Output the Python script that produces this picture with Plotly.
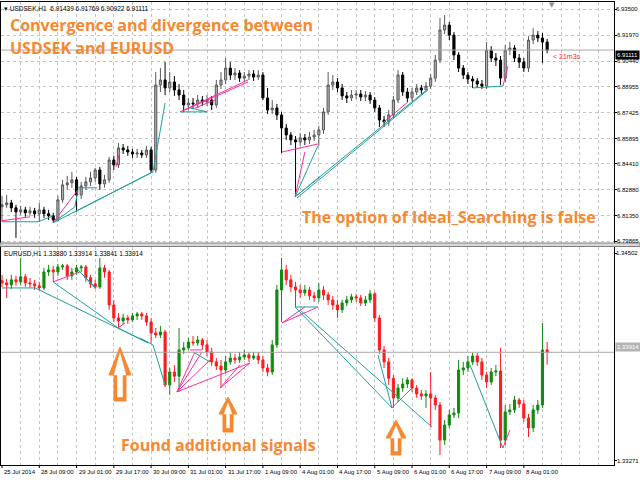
import plotly.graph_objects as go

W, H = 640, 480
def px(x): return x / W
def py(y): return 1 - y / H

# ---------------- data ----------------
date_labels = ["25 Jul 2014", "28 Jul 09:00", "29 Jul 01:00", "29 Jul 17:00", "30 Jul 09:00",
               "31 Jul 01:00", "31 Jul 17:00", "1 Aug 09:00", "4 Aug 01:00", "4 Aug 17:00",
               "5 Aug 09:00", "6 Aug 01:00", "6 Aug 17:00", "7 Aug 09:00", "8 Aug 01:00"]
label_hours = [0, 16, 32, 48, 64, 80, 96, 112, 128, 144, 160, 176, 192, 208, 224]
bar_hours = list(range(0, 236, 2))  # one candle per 2 trading hours

usdsek_open0 = 6.8188
usdsek_close = [6.8200, 6.8211, 6.8182, 6.8158, 6.8170, 6.8153, 6.8164, 6.8147, 6.8170, 6.8147,
                6.8135, 6.8111, 6.8229, 6.8317, 6.8329, 6.8347, 6.8258, 6.8311, 6.8335, 6.8358,
                6.8405, 6.8323, 6.8347, 6.8464, 6.8435, 6.8535, 6.8523, 6.8511, 6.8499, 6.8505,
                6.8494, 6.8523, 6.8405, 6.8905, 6.8935, 6.8888, 6.8923, 6.8876, 6.8846, 6.8788,
                6.8799, 6.8794, 6.8817, 6.8805, 6.8817, 6.8788, 6.8905, 6.8935, 6.9005, 6.8964,
                6.8976, 6.8946, 6.8958, 6.8970, 6.8952, 6.8964, 6.8829, 6.8758, 6.8770, 6.8729,
                6.8652, 6.8611, 6.8582, 6.8570, 6.8594, 6.8582, 6.8599, 6.8611, 6.8641, 6.8747,
                6.8905, 6.8923, 6.8888, 6.8841, 6.8829, 6.8846, 6.8852, 6.8835, 6.8846, 6.8817,
                6.8770, 6.8699, 6.8688, 6.8729, 6.8817, 6.8964, 6.8864, 6.8829, 6.8864, 6.8888,
                6.8876, 6.8899, 6.8946, 6.9052, 6.9229, 6.9258, 6.9199, 6.9082, 6.9005, 6.8964,
                6.8940, 6.8929, 6.8911, 6.8899, 6.9111, 6.9064, 6.9052, 6.8946, 6.9111, 6.9123,
                6.9064, 6.9040, 6.9005, 6.9170, 6.9199, 6.9182, 6.9158, 6.91111]
usdsek_high = [6.8253, 6.8258, 6.8229, 6.8200, 6.8194, 6.8188, 6.8188, 6.8182, 6.8211, 6.8188,
               6.8170, 6.8153, 6.8253, 6.8347, 6.8370, 6.8394, 6.8364, 6.8335, 6.8364, 6.8394,
               6.8417, 6.8423, 6.8376, 6.8482, 6.8488, 6.8564, 6.8558, 6.8547, 6.8529, 6.8529,
               6.8523, 6.8547, 6.8541, 6.8982, 6.9005, 6.9040, 6.8982, 6.8958, 6.8911, 6.8876,
               6.8829, 6.8829, 6.8846, 6.8841, 6.8846, 6.8841, 6.8935, 6.8982, 6.9064, 6.9040,
               6.9005, 6.8993, 6.8982, 6.8993, 6.8993, 6.8993, 6.8982, 6.8888, 6.8817, 6.8794,
               6.8747, 6.8676, 6.8629, 6.8605, 6.8623, 6.8617, 6.8629, 6.8641, 6.8664, 6.8770,
               6.8982, 6.8964, 6.8946, 6.8911, 6.8864, 6.8876, 6.8876, 6.8876, 6.8870, 6.8864,
               6.8835, 6.8788, 6.8723, 6.8758, 6.8841, 6.8993, 6.8982, 6.8888, 6.8888, 6.8911,
               6.8905, 6.8923, 6.8970, 6.9082, 6.9299, 6.9317, 6.9276, 6.9217, 6.9099, 6.9023,
               6.8982, 6.8958, 6.8946, 6.8935, 6.9158, 6.9134, 6.9093, 6.9076, 6.9140, 6.9158,
               6.9140, 6.9088, 6.9064, 6.9193, 6.9240, 6.9223, 6.9211, 6.91769]
usdsek_low = [6.8100, 6.8182, 6.8158, 6.8005, 6.8141, 6.8129, 6.8135, 6.8123, 6.8100, 6.8123,
              6.8111, 6.8094, 6.8100, 6.8211, 6.8288, 6.8300, 6.8158, 6.8235, 6.8288, 6.8311,
              6.8335, 6.8288, 6.8300, 6.8329, 6.8405, 6.8417, 6.8499, 6.8488, 6.8476, 6.8476,
              6.8476, 6.8476, 6.8388, 6.8388, 6.8864, 6.8846, 6.8864, 6.8841, 6.8817, 6.8747,
              6.8758, 6.8764, 6.8770, 6.8782, 6.8782, 6.8758, 6.8770, 6.8882, 6.8911, 6.8935,
              6.8935, 6.8923, 6.8923, 6.8935, 6.8929, 6.8935, 6.8817, 6.8735, 6.8735, 6.8699,
              6.8505, 6.8582, 6.8552, 6.8247, 6.8547, 6.8552, 6.8558, 6.8576, 6.8547, 6.8617,
              6.8729, 6.8876, 6.8864, 6.8817, 6.8799, 6.8811, 6.8823, 6.8811, 6.8811, 6.8794,
              6.8747, 6.8658, 6.8658, 6.8664, 6.8711, 6.8799, 6.8841, 6.8805, 6.8811, 6.8846,
              6.8852, 6.8876, 6.8882, 6.8923, 6.9035, 6.9205, 6.9170, 6.9052, 6.8982, 6.8940,
              6.8911, 6.8888, 6.8888, 6.8882, 6.8882, 6.9040, 6.9017, 6.8905, 6.8923, 6.9082,
              6.9040, 6.9005, 6.8982, 6.8982, 6.9146, 6.9158, 6.9035, 6.90922]

eurusd_open0 = 1.34338
eurusd_close = [1.34326, 1.34314, 1.34344, 1.34332, 1.34362, 1.34326, 1.34320, 1.34308, 1.34296, 1.34391,
                1.34403, 1.34391, 1.34421, 1.34427, 1.34368, 1.34391, 1.34415, 1.34421, 1.34356, 1.34320,
                1.34302, 1.34415, 1.34391, 1.34195, 1.34118, 1.34100, 1.34118, 1.34106, 1.34130, 1.34142,
                1.34130, 1.34094, 1.34029, 1.34017, 1.34035, 1.33720, 1.33797, 1.33772, 1.33928, 1.33940,
                1.33975, 1.33970, 1.33987, 1.33958, 1.33916, 1.33857, 1.33833, 1.33809, 1.33857, 1.33880,
                1.33869, 1.33886, 1.33898, 1.33880, 1.33892, 1.33869, 1.33821, 1.33797, 1.33958, 1.34284,
                1.34403, 1.34344, 1.34302, 1.34284, 1.34267, 1.34284, 1.34249, 1.34237, 1.34284, 1.34255,
                1.34225, 1.34195, 1.34166, 1.34207, 1.34225, 1.34243, 1.34237, 1.34207, 1.34225, 1.34261,
                1.34118, 1.33928, 1.33857, 1.33760, 1.33643, 1.33702, 1.33726, 1.33750, 1.33702, 1.33667,
                1.33655, 1.33667, 1.33643, 1.33601, 1.33393, 1.33482, 1.33542, 1.33554, 1.33809, 1.33821,
                1.33857, 1.33892, 1.33857, 1.33779, 1.33738, 1.33797, 1.33803, 1.33393, 1.33560, 1.33572,
                1.33631, 1.33607, 1.33524, 1.33465, 1.33572, 1.33601, 1.33928, 1.33914]
eurusd_high = [1.34374, 1.34350, 1.34374, 1.34368, 1.34474, 1.34379, 1.34356, 1.34344, 1.34332, 1.34415,
               1.34433, 1.34427, 1.34439, 1.34439, 1.34439, 1.34415, 1.34433, 1.34433, 1.34433, 1.34374,
               1.34344, 1.34474, 1.34433, 1.34403, 1.34225, 1.34148, 1.34142, 1.34136, 1.34148, 1.34154,
               1.34154, 1.34148, 1.34118, 1.34059, 1.34071, 1.34047, 1.33821, 1.33839, 1.34059, 1.33975,
               1.33999, 1.34011, 1.34011, 1.33999, 1.33987, 1.33940, 1.33880, 1.33869, 1.33892, 1.33916,
               1.33904, 1.33916, 1.33928, 1.33916, 1.33916, 1.33916, 1.33892, 1.33845, 1.33987, 1.34314,
               1.34474, 1.34433, 1.34374, 1.34332, 1.34314, 1.34314, 1.34302, 1.34273, 1.34326, 1.34308,
               1.34273, 1.34249, 1.34225, 1.34225, 1.34249, 1.34261, 1.34261, 1.34255, 1.34249, 1.34284,
               1.34273, 1.34136, 1.33952, 1.33880, 1.33779, 1.33726, 1.33760, 1.33766, 1.33760, 1.33720,
               1.33690, 1.33690, 1.33797, 1.33661, 1.33619, 1.33512, 1.33572, 1.33584, 1.33869, 1.33857,
               1.33892, 1.33910, 1.33910, 1.33880, 1.33797, 1.33821, 1.33839, 1.33940, 1.33601, 1.33607,
               1.33655, 1.33643, 1.33631, 1.33548, 1.33601, 1.33631, 1.34088, 1.33975]
eurusd_low = [1.34302, 1.34237, 1.34290, 1.34308, 1.34314, 1.34302, 1.34296, 1.34284, 1.34284, 1.34284,
              1.34368, 1.34332, 1.34368, 1.34403, 1.34344, 1.34344, 1.34374, 1.34391, 1.34332, 1.34296,
              1.34290, 1.34290, 1.34356, 1.34166, 1.34094, 1.34059, 1.34082, 1.34082, 1.34094, 1.34106,
              1.34106, 1.34071, 1.33970, 1.33999, 1.33999, 1.33708, 1.33661, 1.33738, 1.33679, 1.33904,
              1.33928, 1.33952, 1.33952, 1.33928, 1.33892, 1.33833, 1.33809, 1.33702, 1.33791, 1.33839,
              1.33845, 1.33851, 1.33869, 1.33857, 1.33869, 1.33845, 1.33797, 1.33772, 1.33779, 1.33940,
              1.34094, 1.34314, 1.34273, 1.34183, 1.34237, 1.34249, 1.34225, 1.34213, 1.34213, 1.34225,
              1.34195, 1.34166, 1.34118, 1.34148, 1.34189, 1.34207, 1.34213, 1.34189, 1.34189, 1.34207,
              1.34094, 1.33904, 1.33821, 1.33720, 1.33584, 1.33619, 1.33679, 1.33702, 1.33679, 1.33643,
              1.33631, 1.33584, 1.33471, 1.33572, 1.33304, 1.33364, 1.33465, 1.33524, 1.33524, 1.33779,
              1.33797, 1.33839, 1.33833, 1.33750, 1.33702, 1.33720, 1.33772, 1.33346, 1.33364, 1.33542,
              1.33554, 1.33584, 1.33500, 1.33411, 1.33441, 1.33548, 1.33584, 1.33841]

usdsek_ticks = [6.93500, 6.91970, 6.90440, 6.88955, 6.87425, 6.85895, 6.84410, 6.82880, 6.81350, 6.79865]
eurusd_ticks = [1.34502, 1.33271]
usdsek_last = 6.91111
eurusd_last = 1.33914

# divergence lines: (hour1, price1, hour2, price2, kind)
usdsek_segments = [
    (0, 6.8100, 15.5, 6.8100, "teal"), (15.5, 6.8100, 21.9, 6.8135, "teal"),
    (0, 6.8106, 12, 6.8129, "pink"), (21.9, 6.8094, 32.6, 6.8288, "pink"),
    (21.9, 6.8094, 31.3, 6.8188, "teal"), (31.3, 6.8188, 32.6, 6.8288, "teal"),
    (32.6, 6.8300, 40.8, 6.8300, "teal"), (21.9, 6.8094, 64.8, 6.8394, "teal"),
    (31.3, 6.8158, 64.8, 6.8394, "teal"), (48.9, 6.8423, 50.6, 6.8511, "pink"),
    (64.8, 6.8394, 70.0, 6.8799, "teal"), (76.4, 6.8747, 88.0, 6.8747, "teal"),
    (80.7, 6.8770, 88.0, 6.8747, "teal"), (76.4, 6.8747, 105.6, 6.8935, "pink"),
    (78.5, 6.8758, 105.6, 6.8923, "pink"), (82.8, 6.8770, 91.4, 6.8817, "pink"),
    (120.2, 6.8511, 135.6, 6.8558, "pink"), (125.8, 6.8247, 130.0, 6.8511, "pink"),
    (125.8, 6.8247, 135.6, 6.8547, "teal"), (125.8, 6.8247, 136.5, 6.8364, "teal"),
    (125.8, 6.8247, 182.8, 6.8882, "teal"), (126.6, 6.8240, 182.8, 6.8876, "teal"),
    (163.5, 6.8682, 174.2, 6.8805, "pink"), (202.1, 6.8888, 215.0, 6.8899, "teal"),
    (215.0, 6.8899, 217.2, 6.9017, "pink"),
]
eurusd_segments = [
    (0, 1.34296, 14.2, 1.34296, "teal"), (14.2, 1.34296, 62.7, 1.33970, "teal"),
    (21.9, 1.34332, 33.5, 1.34391, "pink"), (21.9, 1.34332, 49.8, 1.34059, "teal"),
    (49.8, 1.34059, 62.7, 1.33970, "teal"), (33.5, 1.34391, 39.9, 1.34296, "teal"),
    (32.6, 1.34403, 39.9, 1.34302, "teal"), (49.8, 1.34059, 52.8, 1.34088, "pink"),
    (59.2, 1.33999, 64.8, 1.33958, "teal"), (64.8, 1.33958, 70.0, 1.33720, "teal"),
    (75.1, 1.33679, 85.8, 1.33916, "pink"), (75.1, 1.33679, 82.8, 1.33916, "pink"),
    (82.0, 1.33916, 89.3, 1.33857, "teal"), (75.1, 1.33679, 89.3, 1.33869, "pink"),
    (75.1, 1.33679, 106.4, 1.33851, "pink"), (80.7, 1.33928, 85.8, 1.33928, "pink"),
    (93.6, 1.33702, 106.4, 1.33851, "pink"), (93.6, 1.33702, 102.1, 1.33839, "pink"),
    (120.2, 1.34088, 130.0, 1.34183, "pink"), (120.2, 1.34088, 135.6, 1.34183, "pink"),
    (125.8, 1.34183, 135.6, 1.34183, "teal"), (125.8, 1.34183, 167.4, 1.33584, "teal"),
    (127.9, 1.34166, 184.5, 1.33471, "teal"), (161.4, 1.33898, 167.4, 1.33584, "teal"),
    (167.4, 1.33584, 176.0, 1.33702, "pink"), (200.9, 1.33839, 215.0, 1.33346, "teal"),
    (215.0, 1.33346, 218.0, 1.33453, "pink"),
]

# ---------------- figure ----------------
TEAL = "#1f9e9e"
PINK = "#ff2d9a"
ORANGE = "#f7882f"
GRID = "#c4c4c4"

usdsek_open = [usdsek_open0] + usdsek_close[:-1]
eurusd_open = [eurusd_open0] + eurusd_close[:-1]

fig = go.Figure()
fig.add_trace(go.Candlestick(
    x=bar_hours, open=usdsek_open, high=usdsek_high, low=usdsek_low, close=usdsek_close,
    xaxis="x", yaxis="y", whiskerwidth=0, hoverinfo="skip", showlegend=False,
    increasing=dict(line=dict(color="#5a5a5a", width=1), fillcolor="#b0b0b0"),
    decreasing=dict(line=dict(color="#000000", width=1), fillcolor="#000000")))
fig.add_trace(go.Candlestick(
    x=bar_hours, open=eurusd_open, high=eurusd_high, low=eurusd_low, close=eurusd_close,
    xaxis="x2", yaxis="y2", whiskerwidth=0, hoverinfo="skip", showlegend=False,
    increasing=dict(line=dict(color="#108a10", width=1), fillcolor="#108a10"),
    decreasing=dict(line=dict(color="#ff1c1c", width=1), fillcolor="#ff1c1c")))

def add_segments(segs, xa, ya):
    for kind, color in (("teal", TEAL), ("pink", PINK)):
        xs, ys = [], []
        for h1, p1, h2, p2, k in segs:
            if k == kind:
                xs += [h1, h2, None]
                ys += [p1, p2, None]
        fig.add_trace(go.Scatter(x=xs, y=ys, mode="lines", xaxis=xa, yaxis=ya,
                                 line=dict(color=color, width=1), hoverinfo="skip",
                                 showlegend=False))

add_segments(usdsek_segments, "x", "y")
add_segments(eurusd_segments, "x2", "y2")

xrange = [-0.43, 262.7]
grid_hours = list(range(0, 264, 8))
xcommon = dict(range=xrange, domain=[px(1), px(614)], tickvals=grid_hours,
               showticklabels=False, ticks="", showgrid=True, gridcolor=GRID,
               griddash="dot", gridwidth=1, zeroline=False, showline=True,
               linecolor="#000000", linewidth=1, mirror=True,
               rangeslider=dict(visible=False), fixedrange=True)
tickfont = dict(family="Liberation Sans", size=6, color="#000000")

y1_dom, y1_rng = [py(243), py(2)], [6.7975, 6.9394]
y2_dom, y2_rng = [py(465), py(247)], [1.33245, 1.34539]

# strip to the right of each panel that carries the top price label as scatter text
lab_x = (616 - 614) / (640 - 614)
fig.add_trace(go.Scatter(x=[lab_x], y=[usdsek_ticks[0]], mode="text", text=[f"{usdsek_ticks[0]:.5f}"],
                         textposition="middle right", textfont=tickfont, cliponaxis=False,
                         xaxis="x3", yaxis="y3", hoverinfo="skip", showlegend=False))
fig.add_trace(go.Scatter(x=[lab_x], y=[eurusd_ticks[0]], mode="text", text=[f"{eurusd_ticks[0]:.5f}"],
                         textposition="middle right", textfont=tickfont, cliponaxis=False,
                         xaxis="x4", yaxis="y4", hoverinfo="skip", showlegend=False))

hidden = dict(visible=False, fixedrange=True)
fig.update_layout(
    width=W, height=H, autosize=False,
    margin=dict(l=0, r=0, t=0, b=0),
    paper_bgcolor="#ffffff", plot_bgcolor="rgba(0,0,0,0)",
    showlegend=False, boxgap=0.35,
    font=dict(family="Liberation Sans", size=7, color="#000000"),
    xaxis=dict(anchor="y", **xcommon),
    xaxis2=dict(anchor="y2", **xcommon),
    yaxis=dict(domain=y1_dom, range=y1_rng, autorange=False, side="right",
               anchor="x", tickvals=usdsek_ticks, showticklabels=False,
               ticks="outside", ticklen=2, tickcolor="#000000",
               showgrid=True, gridcolor=GRID, griddash="dot", zeroline=False,
               showline=True, linecolor="#000000", mirror=True, fixedrange=True),
    yaxis2=dict(domain=y2_dom, range=y2_rng, autorange=False, side="right",
                anchor="x2", tickvals=eurusd_ticks, showticklabels=False,
                ticks="outside", ticklen=2, tickcolor="#000000",
                showgrid=False, zeroline=False,
                showline=True, linecolor="#000000", mirror=True, fixedrange=True),
    xaxis3=dict(domain=[px(614), 1], range=[0, 1], anchor="y3", **hidden),
    yaxis3=dict(domain=y1_dom, range=y1_rng, anchor="x3", **hidden),
    xaxis4=dict(domain=[px(614), 1], range=[0, 1], anchor="y4", **hidden),
    yaxis4=dict(domain=y2_dom, range=y2_rng, anchor="x4", **hidden),
)

def to_paper(v, dom, rng):
    return dom[0] + (v - rng[0]) / (rng[1] - rng[0]) * (dom[1] - dom[0])

# price-axis labels (placed through the axis scale)
for v in usdsek_ticks[1:]:
    fig.add_annotation(xref="paper", yref="paper", x=px(616), y=to_paper(v, y1_dom, y1_rng),
                       xanchor="left", yanchor="middle", text=f"{v:.5f}", showarrow=False,
                       font=tickfont, borderpad=0)
for v in eurusd_ticks[1:]:
    fig.add_annotation(xref="paper", yref="paper", x=px(616), y=to_paper(v, y2_dom, y2_rng),
                       xanchor="left", yanchor="middle", text=f"{v:.5f}", showarrow=False,
                       font=tickfont, borderpad=0)

# current price lines
fig.add_shape(type="line", xref="x domain", yref="y", x0=0, x1=1, y0=usdsek_last, y1=usdsek_last,
              line=dict(color="#a8a8a8", width=1))
fig.add_shape(type="line", xref="x2 domain", yref="y2", x0=0, x1=1, y0=eurusd_last, y1=eurusd_last,
              line=dict(color="#a8a8a8", width=1))
# separator band between panels
fig.add_shape(type="rect", xref="paper", yref="paper", x0=0, x1=1, y0=py(246.5), y1=py(243),
              fillcolor="#d8d8d8", line=dict(color="#808080", width=1), layer="above")

# price boxes
fig.add_annotation(xref="paper", yref="paper", x=px(615), y=to_paper(usdsek_last, y1_dom, y1_rng),
                   xanchor="left", text=f"{usdsek_last:.5f}", showarrow=False, bgcolor="#000000",
                   font=dict(family="Liberation Sans", size=6, color="#ffffff"), borderpad=1)
fig.add_annotation(xref="paper", yref="paper", x=px(615), y=to_paper(eurusd_last, y2_dom, y2_rng),
                   xanchor="left", text=f"{eurusd_last:.5f}", showarrow=False, bgcolor="#b4b4b4",
                   font=dict(family="Liberation Sans", size=6, color="#ffffff"), borderpad=1)

# date labels (left aligned at tick)
for h, lab in zip(label_hours, date_labels):
    fig.add_annotation(xref="x2", yref="paper", x=h, y=py(472), xanchor="left", yanchor="middle",
                       xshift=0, text=lab, showarrow=False,
                       font=dict(family="Liberation Sans", size=6, color="#000000"))
    fig.add_shape(type="line", xref="x2", yref="paper", x0=h, x1=h, y0=py(465), y1=py(468),
                  line=dict(color="#000000", width=1))

# header info
fig.add_annotation(xref="paper", yref="paper", x=px(2), y=py(8), xanchor="left", yanchor="middle",
                   text="▾ USDSEK,H1  6.91439 6.91769 6.90922 6.91111", showarrow=False,
                   font=dict(family="Liberation Sans", size=6.5, color="#000000"))
fig.add_annotation(xref="paper", yref="paper", x=px(2), y=py(253), xanchor="left", yanchor="middle",
                   text="EURUSD,H1 1.33880 1.33914 1.33841 1.33914", showarrow=False,
                   font=dict(family="Liberation Sans", size=6.5, color="#000000"))
fig.add_annotation(xref="paper", yref="paper", x=px(552), y=py(5), xanchor="center", yanchor="middle",
                   text="▼", showarrow=False, font=dict(family="DejaVu Sans", size=7, color="#8c8c8c"))
fig.add_annotation(xref="paper", yref="paper", x=px(551), y=py(56), xanchor="left", yanchor="middle",
                   text="&lt; 21m3s", showarrow=False,
                   font=dict(family="Liberation Sans", size=7, color="#ff2a2a"))

# orange captions
cap_font = dict(family="Open Sans", size=16, color=ORANGE)
fig.add_annotation(xref="paper", yref="paper", x=px(8), y=py(25), xanchor="left", yanchor="middle",
                   text="<b>Convergence and divergence between</b>", showarrow=False, font=cap_font)
fig.add_annotation(xref="paper", yref="paper", x=px(8), y=py(48), xanchor="left", yanchor="middle",
                   text="<b>USDSEK and EURUSD</b>", showarrow=False, font=cap_font)
fig.add_annotation(xref="paper", yref="paper", x=px(300), y=py(217), xanchor="left", yanchor="middle",
                   text="<b>The option of Ideal_Searching is false</b>", showarrow=False, font=cap_font)
fig.add_annotation(xref="paper", yref="paper", x=px(119), y=py(445), xanchor="left", yanchor="middle",
                   text="<b>Found additional signals</b>", showarrow=False, font=cap_font)

# hollow orange up arrows
def arrow_path(cx, top, bottom, half_head, half_shaft, head_h):
    pts = [(cx, top), (cx + half_head, top + head_h), (cx + half_shaft, top + head_h),
           (cx + half_shaft, bottom), (cx - half_shaft, bottom), (cx - half_shaft, top + head_h),
           (cx - half_head, top + head_h)]
    return "M " + " L ".join(f"{px(x):.5f},{py(y):.5f}" for x, y in pts) + " Z"

for cx, top, bottom, hh, hs, head in [(120, 347, 401, 11, 6, 28), (228, 397, 432, 9, 5, 17),
                                       (396, 420, 455, 10, 5, 18)]:
    fig.add_shape(type="path", xref="paper", yref="paper",
                  path=arrow_path(cx, top, bottom, hh, hs, head),
                  fillcolor=ORANGE, line=dict(color=ORANGE, width=1))
    fig.add_shape(type="path", xref="paper", yref="paper",
                  path=arrow_path(cx, top + 6, bottom - 4, hh - 5, max(hs - 3.5, 1.2), head - 6),
                  fillcolor="#ffffff", line=dict(color="#ffffff", width=0.5))

fig.write_html("out.html", config={"displayModeBar": False},
               post_script="document.body.style.margin='0';document.body.style.overflow='hidden';")
